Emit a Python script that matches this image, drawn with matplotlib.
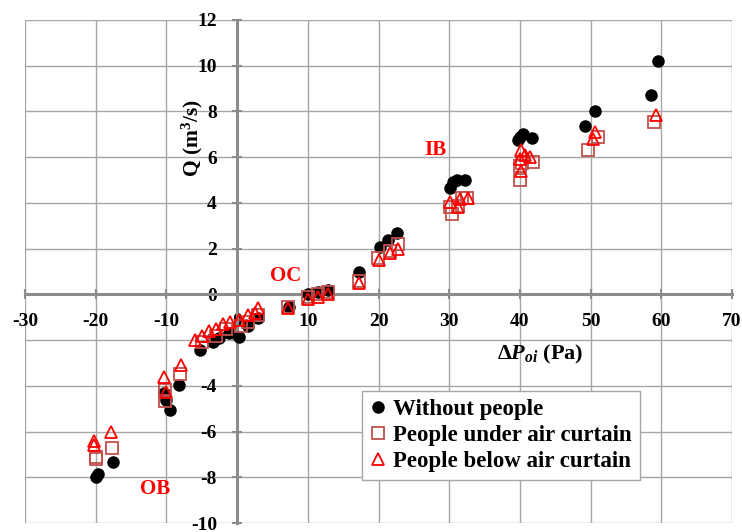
import matplotlib.pyplot as plt

# Q vs pressure difference across the opening, three test cases
dp_none = [-20.0, -19.7, -17.6, -10.3, -10.0, -9.5, -8.2, -5.2, -3.4, -2.5, -1.2, 0.3, 1.5, 3.0,
           7.3, 10.0, 11.4, 12.9, 17.2, 20.2, 21.3, 22.6, 30.1, 30.5, 31.1, 32.2,
           39.7, 40.0, 40.4, 41.7, 49.2, 50.6, 58.6, 59.6]
q_none = [-8.0, -7.85, -7.35, -4.3, -4.6, -5.05, -3.95, -2.45, -2.1, -1.9, -1.7, -1.85, -1.4, -1.05,
          -0.55, 0.0, 0.1, 0.2, 0.96, 2.05, 2.36, 2.7, 4.67, 4.9, 5.0, 5.0,
          6.77, 6.9, 7.03, 6.86, 7.38, 8.0, 8.73, 10.2]

dp_under = [-20.0, -19.9, -17.7, -10.2, -10.2, -8.1, -5.0, -3.0, -1.5, 0.5, 1.5, 3.0,
            7.2, 10.0, 11.4, 12.9, 17.2, 19.9, 21.6, 22.8, 30.1, 30.4, 31.2, 31.8, 32.5,
            40.0, 40.0, 40.3, 41.8, 49.6, 51.0, 58.9]
q_under = [-7.2, -7.1, -6.7, -4.2, -4.65, -3.5, -2.1, -1.8, -1.5, -1.4, -1.2, -0.9,
           -0.57, -0.1, 0.0, 0.1, 0.57, 1.6, 1.9, 2.2, 3.8, 3.5, 3.85, 4.2, 4.2,
           5.0, 5.6, 5.75, 5.8, 6.33, 6.9, 7.55]

dp_below = [-20.2, -20.2, -17.8, -10.4, -10.0, -7.9, -6.0, -5.0, -4.0, -3.0, -2.0, -1.0, 0.2, 1.5, 2.5, 3.0,
            7.2, 10.0, 11.4, 12.9, 17.2, 20.0, 21.6, 22.8, 30.1, 31.2, 31.5, 32.6,
            40.0, 40.2, 40.2, 40.7, 41.4, 50.3, 50.6, 59.3]
q_below = [-6.4, -6.6, -6.0, -3.6, -4.25, -3.1, -2.0, -1.8, -1.6, -1.5, -1.3, -1.2, -1.1, -0.9, -0.8, -0.6,
           -0.6, -0.2, -0.1, 0.0, 0.5, 1.5, 1.8, 2.0, 4.05, 3.8, 4.15, 4.2,
           5.9, 5.4, 6.3, 6.1, 6.0, 6.8, 7.1, 7.85]

xticks = list(range(-30, 71, 10))
yticks = list(range(-10, 13, 2))

plt.rcParams['font.family'] = ['Liberation Serif', 'DejaVu Serif']
plt.rcParams['font.weight'] = 'bold'
plt.rcParams['axes.unicode_minus'] = False
plt.rcParams['mathtext.fontset'] = 'custom'
plt.rcParams['mathtext.rm'] = 'Liberation Serif:bold'
plt.rcParams['mathtext.it'] = 'Liberation Serif:bold:italic'
plt.rcParams['mathtext.bf'] = 'Liberation Serif:bold'

fig = plt.figure(figsize=(7.42, 5.32), dpi=100)
ax = fig.add_axes([25 / 742, 9 / 532, 707 / 742, 503 / 532])

ax.plot(dp_none, q_none, 'o', color='black', markersize=8, label='Without people', zorder=3)
ax.plot(dp_under, q_under, 's', markerfacecolor='none', markeredgecolor='#c0504d',
        markeredgewidth=1.3, markersize=8.5, label='People under air curtain', zorder=4)
ax.plot(dp_below, q_below, '^', markerfacecolor='none', markeredgecolor='#ff0000',
        markeredgewidth=1.3, markersize=8.5, label='People below air curtain', zorder=5)

ax.set_xlim(-30, 70)
ax.set_ylim(-10, 12)
ax.set_xticks(xticks)
ax.set_yticks(yticks)

ax.grid(True, color='#a6a6a6', linewidth=1.0)
for gl in ax.get_xgridlines() + ax.get_ygridlines():
    gl.set_clip_on(False)
ax.set_axisbelow(True)

for side in ['top', 'right']:
    ax.spines[side].set_visible(False)
ax.spines['left'].set_position(('data', 0))
ax.spines['bottom'].set_position(('data', 0))
for side in ['left', 'bottom']:
    ax.spines[side].set_color('#8c8c8c')
    ax.spines[side].set_linewidth(2.2)
    ax.spines[side].set_zorder(2)

ax.tick_params(direction='inout', length=7, width=1.5, color='#8c8c8c', labelsize=14)
ax.tick_params(axis='x', pad=10)
ax.tick_params(axis='y', pad=11)
for lab in ax.get_xticklabels() + ax.get_yticklabels():
    lab.set_fontweight('bold')

ax.set_xlabel(r'$\Delta P_{oi}$ (Pa)', fontsize=16, fontweight='bold')
ax.xaxis.set_label_coords(0.728, 0.357)
ax.set_ylabel(r'Q (m$^3$/s)', fontsize=15.5, fontweight='bold')
ax.yaxis.set_label_coords(0.255, 0.765)

ax.text(6.8, 0.8, 'OC', color='red', fontsize=15, fontweight='bold', ha='center', va='center')
ax.text(28.0, 6.3, 'IB', color='red', fontsize=15, fontweight='bold', ha='center', va='center')
ax.text(-11.6, -8.5, 'OB', color='red', fontsize=15, fontweight='bold', ha='center', va='center')

leg = ax.legend(loc='upper left', bbox_to_anchor=(0.477, 0.262), fancybox=False,
                edgecolor='#a6a6a6', framealpha=1, borderaxespad=0,
                prop={'family': 'Liberation Serif', 'weight': 'bold', 'size': 16.5},
                handlelength=0.7, handletextpad=0.3, labelspacing=0.2, borderpad=0.35)
leg.set_zorder(6)

plt.savefig('out.png', dpi=100)
